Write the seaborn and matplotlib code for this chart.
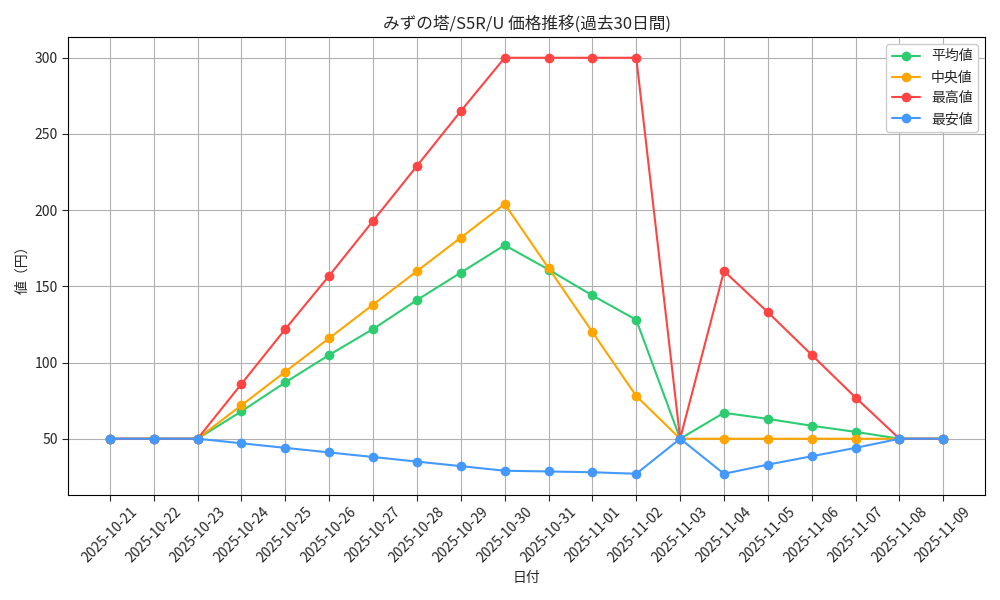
import matplotlib
matplotlib.use('Agg')
from matplotlib import pyplot as plt
import pandas as pd
import seaborn as sns

dates = ['2025-10-21', '2025-10-22', '2025-10-23', '2025-10-24', '2025-10-25',
         '2025-10-26', '2025-10-27', '2025-10-28', '2025-10-29', '2025-10-30',
         '2025-10-31', '2025-11-01', '2025-11-02', '2025-11-03', '2025-11-04',
         '2025-11-05', '2025-11-06', '2025-11-07', '2025-11-08', '2025-11-09']
avg_price = [50, 50, 50, 68, 87, 105, 122, 141, 159, 177,
             161, 144, 128, 50, 67, 63, 58.5, 54.5, 50, 50]
median_price = [50, 50, 50, 72, 94, 116, 138, 160, 182, 204,
                162, 120, 78, 50, 50, 50, 50, 50, 50, 50]
max_price = [50, 50, 50, 86, 122, 157, 193, 229, 265, 300,
             300, 300, 300, 50, 160, 133, 105, 77, 50, 50]
min_price = [50, 50, 50, 47, 44, 41, 38, 35, 32, 29,
             28.5, 28, 27, 50, 27, 33, 38.5, 44, 50, 50]

series = [('平均値', avg_price, '#2ecc71'),
          ('中央値', median_price, '#ffa500'),
          ('最高値', max_price, '#ff4444'),
          ('最安値', min_price, '#4499ff')]

sns.set_style('white')
plt.rcParams['font.family'] = ['Noto Sans CJK JP', 'DejaVu Sans']

fig, ax = plt.subplots(figsize=(10, 6), dpi=100)
for (label, vals, color) in series:
    df = pd.DataFrame({'date': dates, 'value': vals})
    sns.lineplot(data=df, x='date', y='value', ax=ax, color=color,
                 marker='o', markersize=7, markeredgewidth=0,
                 linewidth=1.5, label=label, sort=False)

ax.grid(True, color='#b0b0b0', linewidth=0.8)
ax.set_title('みずの塔/S5R/U 価格推移(過去30日間)')
ax.set_xlabel('日付')
ax.set_ylabel('値（円）')
ax.tick_params(axis='x', rotation=45)
ax.tick_params(axis='both', length=4, left=True, bottom=True)
for s in ax.spines.values():
    s.set_color('black')
    s.set_linewidth(0.8)
ax.legend(loc='upper right', framealpha=1)

fig.tight_layout()
fig.savefig('out.png')
